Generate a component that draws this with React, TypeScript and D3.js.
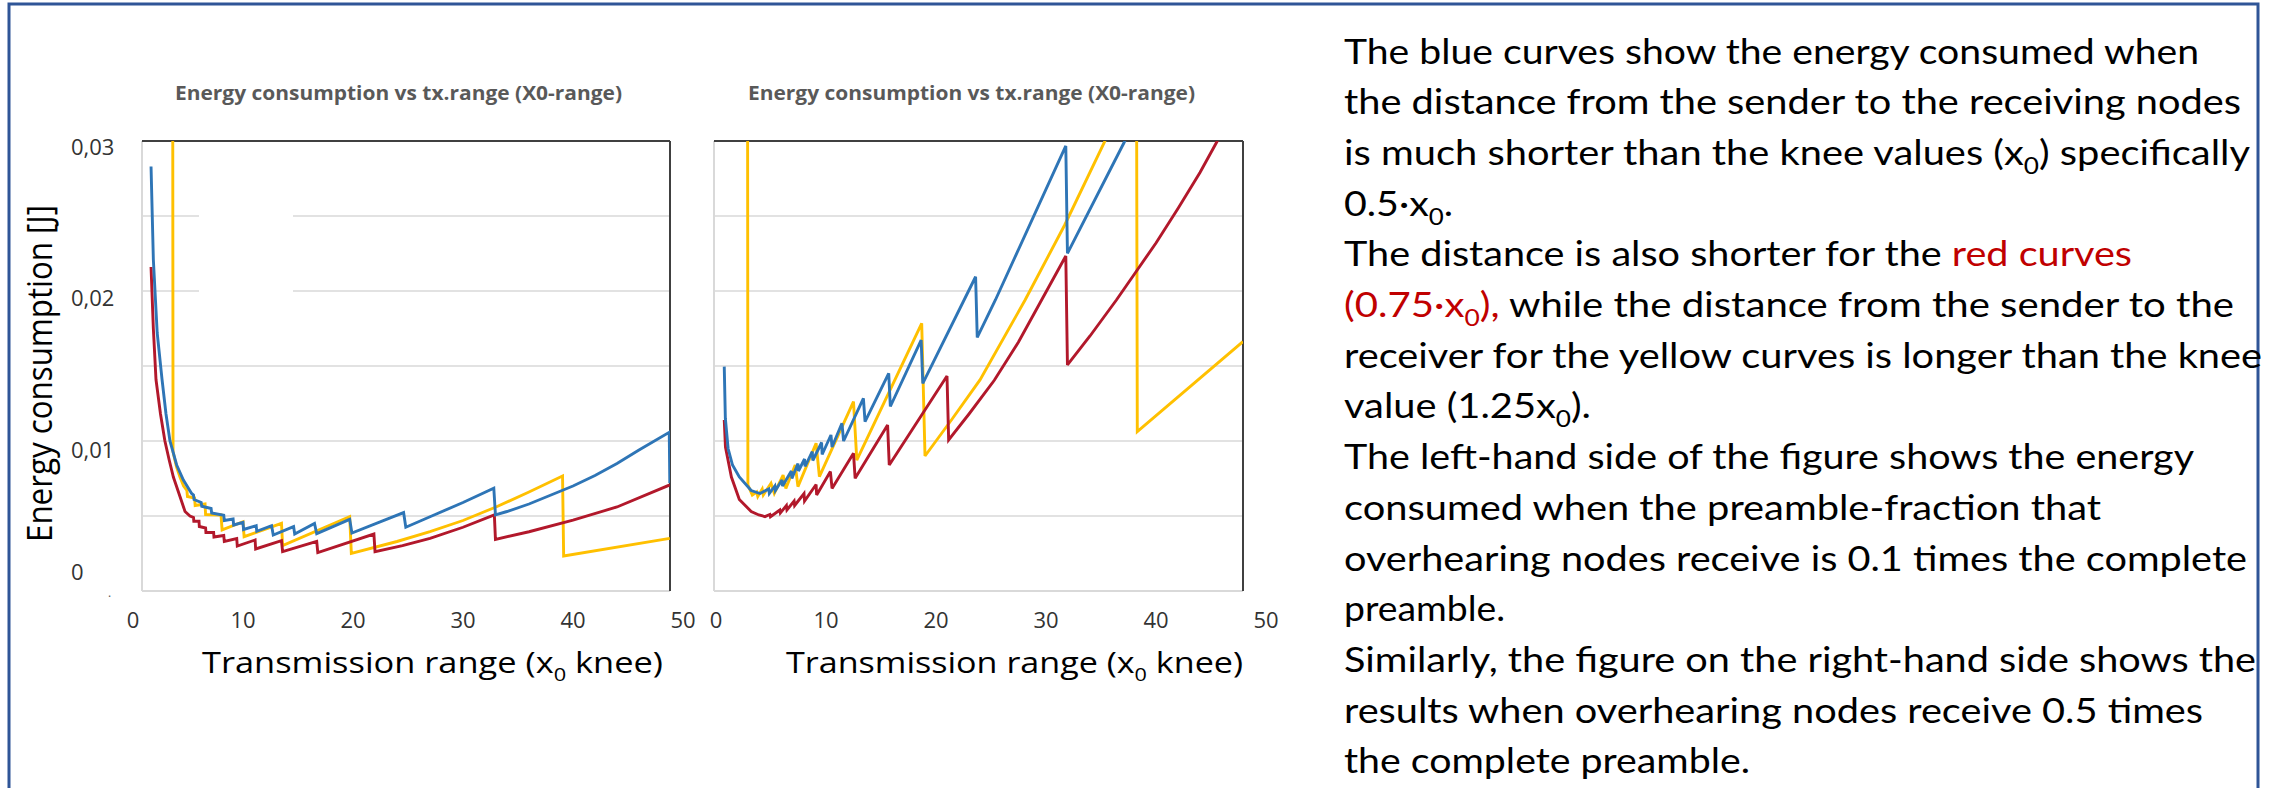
import React from 'react';
import * as d3 from 'd3';

type Pt = [number, number];

// ---------- DATA ----------
const X_TICKS = [0, 10, 20, 30, 40, 50];
const Y_TICK_LABELS = ['0,03', '0,02', '0,01', '0'];
// value at which each y tick label is centred (labels are offset from the grid in the original)
const Y_TICK_LABEL_AT = [0.02967, 0.01957, 0.00947, 0.00133];
const GRID_VALUES = [0.005, 0.01, 0.015, 0.02, 0.025];

const CHART_TITLE = 'Energy consumption vs tx.range (X0-range)';
const Y_TITLE = 'Energy consumption [J]';

// Left chart (preamble fraction 0.1)
const LEFT_BLUE: Pt[] = [
  [1.64, 0.0283], [1.85, 0.0221], [2.2, 0.0172], [2.64, 0.0141], [3.0, 0.0118], [3.36, 0.0100],
  [3.97, 0.0084], [4.58, 0.0074], [5.33, 0.0065],
  [5.5, 0.0064], [5.55, 0.0061], [6.2, 0.0059], [6.25, 0.00565], [7.1, 0.0055], [7.15, 0.0052],
  [8.25, 0.00505], [8.3, 0.0047], [9.1, 0.0048], [9.15, 0.0044], [10.0, 0.00458], [10.05, 0.0041],
  [11.2, 0.00435], [11.25, 0.00398], [12.6, 0.00435], [12.75, 0.00373], [14.6, 0.00429], [14.7, 0.0038],
  [16.5, 0.00451], [16.7, 0.00382], [19.7, 0.00478], [19.9, 0.00386], [24.6, 0.00523], [24.8, 0.00425],
  [27, 0.00495], [30, 0.0059], [32.8, 0.00685], [32.95, 0.00507], [34, 0.0053], [36, 0.0058],
  [38, 0.0064], [40, 0.0070], [42, 0.0077], [44, 0.0085], [46, 0.0094], [48.75, 0.01058], [48.8, 0.0072],
];
const LEFT_RED: Pt[] = [
  [1.64, 0.0216], [1.85, 0.0175], [2.09, 0.0141], [2.5, 0.0118], [2.9, 0.0100], [3.3, 0.0087],
  [3.67, 0.0076], [4.27, 0.0063], [4.73, 0.0053], [5.18, 0.0050],
  [5.5, 0.0049], [5.53, 0.00465], [6.0, 0.00465], [6.03, 0.0043], [6.6, 0.0042], [6.63, 0.0039],
  [7.33, 0.0039], [7.36, 0.0036], [8.25, 0.0037], [8.3, 0.0033], [9.43, 0.0035], [9.48, 0.0030],
  [11.1, 0.0034], [11.15, 0.0028], [13.5, 0.00336], [13.6, 0.00262], [16.7, 0.00331], [16.8, 0.00256],
  [21.9, 0.0038], [22.0, 0.00262], [24.5, 0.00303], [27, 0.00351], [30, 0.00425], [32.85, 0.00507],
  [32.95, 0.00344], [36, 0.00395], [40, 0.00473], [44, 0.0056], [48.8, 0.00707],
];
const LEFT_YELLOW: Pt[] = [
  [3.58, 0.06], [3.64, 0.00927], [3.95, 0.0083], [4.27, 0.0076], [4.6, 0.0070],
  [4.9, 0.0067], [4.95, 0.0063], [5.6, 0.0062], [5.65, 0.0057], [6.55, 0.0058], [6.6, 0.0051],
  [8.0, 0.00507], [8.1, 0.00407], [10.0, 0.00462], [10.1, 0.00362], [13.5, 0.00451], [13.6, 0.00302],
  [19.7, 0.00496], [19.85, 0.00251], [24, 0.0033], [27, 0.00396], [30, 0.0047], [33, 0.0056],
  [36, 0.0066], [39.05, 0.00767], [39.15, 0.00233], [48.8, 0.00351],
];

// Right chart (preamble fraction 0.5)
const RIGHT_BLUE: Pt[] = [
  [0.75, 0.01496], [0.85, 0.0115], [1.1, 0.0095], [1.5, 0.0084], [2.12, 0.0076], [3.2, 0.0067],
  [4.0, 0.0065], [4.8, 0.0068], [4.85, 0.0065], [5.35, 0.0070], [5.4, 0.0067], [6.0, 0.0074],
  [6.05, 0.0070], [6.85, 0.0080], [6.9, 0.0075], [7.45, 0.0085], [7.5, 0.0080], [8.05, 0.0088],
  [8.1, 0.0083], [8.75, 0.0093], [8.8, 0.0087], [9.6, 0.0099], [9.65, 0.0091], [10.45, 0.0104],
  [10.55, 0.0096], [11.45, 0.01118], [11.6, 0.0100], [13.4, 0.01284], [13.55, 0.01129],
  [15.7, 0.01451], [15.85, 0.0123], [18.65, 0.01673], [18.8, 0.01384], [23.6, 0.02095],
  [23.75, 0.01691], [25.4, 0.0194], [31.8, 0.02967], [31.95, 0.02251], [37.1, 0.0299], [37.6, 0.0307],
];
const RIGHT_RED: Pt[] = [
  [0.75, 0.0114], [0.86, 0.0096], [1.4, 0.0076], [2.12, 0.0061], [3.2, 0.0053], [3.9, 0.00507],
  [4.45, 0.00496], [4.9, 0.0051], [4.95, 0.00495], [5.8, 0.0054], [5.85, 0.0052], [6.4, 0.0057],
  [6.45, 0.0054], [7.1, 0.0060], [7.15, 0.0057], [8.0, 0.0065], [8.05, 0.0060], [9.1, 0.0071],
  [9.15, 0.0064], [10.4, 0.00796], [10.55, 0.00684], [12.5, 0.00918], [12.65, 0.00751],
  [15.6, 0.01107], [15.75, 0.0084], [21.0, 0.01433], [21.15, 0.01007], [23, 0.0118],
  [25.3, 0.01405], [27.5, 0.0166], [29.45, 0.0192], [31.8, 0.02233], [31.95, 0.01507],
  [34, 0.0170], [36.4, 0.0194], [38.2, 0.0213], [40, 0.0232], [42, 0.0255], [44, 0.0279],
  [45.5, 0.0299], [46.0, 0.0306],
];
const RIGHT_YELLOW: Pt[] = [
  [2.84, 0.06], [2.9, 0.00707], [3.3, 0.0064], [3.7, 0.0066], [3.8, 0.0063], [4.2, 0.0068],
  [4.3, 0.0064], [5.0, 0.00718], [5.3, 0.00651], [6.1, 0.00773], [6.35, 0.00684], [7.2, 0.0084],
  [7.45, 0.00696], [9.1, 0.00985], [9.4, 0.00762], [12.5, 0.01262], [12.8, 0.00873],
  [18.7, 0.01784], [19.0, 0.0090], [21.5, 0.0115], [24.0, 0.01407], [28.1, 0.0194], [31.7, 0.0244],
  [35.3, 0.0299], [35.6, 0.0304], [38.2, 0.045], [38.3, 0.01062], [47.9, 0.01662],
];

type Seg = { t: string; sub?: boolean; red?: boolean };
const TEXT_LINES: Seg[][] = [
  [{ t: 'The blue curves show the energy consumed when' }],
  [{ t: 'the distance from the sender to the receiving nodes' }],
  [{ t: 'is much shorter than the knee values (x' }, { t: '0', sub: true }, { t: ') specifically' }],
  [{ t: '0.5\u00B7x' }, { t: '0', sub: true }, { t: '.' }],
  [{ t: 'The distance is also shorter for the ' }, { t: 'red curves', red: true }],
  [{ t: '(0.75\u00B7x', red: true }, { t: '0', sub: true, red: true }, { t: '),', red: true }, { t: ' while the distance from the sender to the' }],
  [{ t: 'receiver for the yellow curves is longer than the knee' }],
  [{ t: 'value (1.25x' }, { t: '0', sub: true }, { t: ').' }],
  [{ t: 'The left-hand side of the figure shows the energy' }],
  [{ t: 'consumed when the preamble-fraction that' }],
  [{ t: 'overhearing nodes receive is 0.1 times the complete' }],
  [{ t: 'preamble.' }],
  [{ t: 'Similarly, the figure on the right-hand side shows the' }],
  [{ t: 'results when overhearing nodes receive 0.5 times' }],
  [{ t: 'the complete preamble.' }],
];
const TEXT_LINE_WIDTHS = [855, 897, 906, 109, 788, 890, 918, 247, 850, 757, 903, 161, 912, 859, 406];

// ---------- STYLE / LAYOUT ----------
const W = 2275;
const H = 788;
const FONT = "'Open Sans', 'Noto Sans', sans-serif";
const BLUE = '#2E75B6';
const RED = '#B2182B';
const YELLOW = '#FFC000';

const yScale = d3.scaleLinear().domain([0, 0.03]).range([591, 141]);

const CHARTS = [
  {
    id: 'L', xRange: [133, 683], plot: { l: 142, r: 670 }, titleCx: 398.5,
    xTitleX: 202, xTitleLen: 461, yLabels: true,
    series: [LEFT_YELLOW, LEFT_RED, LEFT_BLUE],
  },
  {
    id: 'R', xRange: [716, 1266], plot: { l: 714, r: 1243 }, titleCx: 971.5,
    xTitleX: 786, xTitleLen: 457, yLabels: false,
    series: [RIGHT_YELLOW, RIGHT_RED, RIGHT_BLUE],
  },
];
const COLORS = [YELLOW, RED, BLUE];

function Chart({ c }: { c: typeof CHARTS[number] }) {
  const x = d3.scaleLinear().domain([0, 50]).range(c.xRange as [number, number]);
  const top = yScale(0.03);
  const bottom = yScale(0);
  const line = d3.line<Pt>().x((d) => x(d[0])).y((d) => yScale(d[1]));
  const clipId = `clip-${c.id}`;
  return (
    <g>
      <defs>
        <clipPath id={clipId}>
          <rect x={c.plot.l} y={top} width={c.plot.r - c.plot.l} height={bottom - top} />
        </clipPath>
      </defs>
      <text x={c.titleCx} y={100} textAnchor="middle" fontFamily={FONT} fontWeight={700}
        fontSize={19} fill="#595959" textLength={447} lengthAdjust="spacingAndGlyphs">
        {CHART_TITLE}
      </text>
      {GRID_VALUES.map((v) => (
        <line key={v} x1={c.plot.l} x2={c.plot.r} y1={yScale(v)} y2={yScale(v)}
          stroke="#D9D9D9" strokeWidth={1.6} />
      ))}
      {c.id === 'L' && (
        <rect x={199} y={200} width={94} height={100} fill="#fff" />
      )}
      <line x1={c.plot.l} x2={c.plot.l} y1={top} y2={bottom} stroke="#D9D9D9" strokeWidth={2} />
      <line x1={c.plot.l} x2={c.plot.r} y1={bottom} y2={bottom} stroke="#D9D9D9" strokeWidth={2} />
      <line x1={c.plot.l} x2={c.plot.r} y1={top} y2={top} stroke="#404040" strokeWidth={2} />
      <line x1={c.plot.r} x2={c.plot.r} y1={top} y2={bottom} stroke="#404040" strokeWidth={2} />
      <g clipPath={`url(#${clipId})`}>
        {c.series.map((s, i) => (
          <path key={i} d={line(s) || ''} fill="none" stroke={COLORS[i]} strokeWidth={2.9}
            strokeLinejoin="miter" strokeMiterlimit={3} />
        ))}
      </g>
      {X_TICKS.map((t) => (
        <text key={t} x={x(t)} y={619} textAnchor="middle" dominantBaseline="central"
          fontFamily={FONT} fontSize={22} fill="#333">
          {t}
        </text>
      ))}
      {c.yLabels && Y_TICK_LABELS.map((l, i) => (
        <text key={l} x={71} y={yScale(Y_TICK_LABEL_AT[i])} dominantBaseline="central"
          fontFamily={FONT} fontSize={22} fill="#333">
          {l}
        </text>
      ))}
      {c.yLabels && (
        <text x={108} y={597} fontFamily={FONT} fontSize={12} fill="#555">.</text>
      )}
      <text x={c.xTitleX} y={673} fontFamily={FONT} fontSize={30} fill="#000"
        textLength={c.xTitleLen} lengthAdjust="spacingAndGlyphs">
        Transmission range (x<tspan fontSize={19} dy={8}>0</tspan>
        <tspan dy={-8}> knee)</tspan>
      </text>
    </g>
  );
}

export default function App() {
  return (
    <svg width={W} height={H} viewBox={`0 0 ${W} ${H}`}
      style={{ position: 'absolute', left: 0, top: 0, display: 'block', background: '#fff' }}>
      <rect x={0} y={0} width={W} height={H} fill="#fff" />
      <rect x={9} y={4} width={2249} height={900} fill="none" stroke="#2F5597" strokeWidth={3} />
      {CHARTS.map((c) => <Chart key={c.id} c={c} />)}
      <text transform="translate(52,373.5) rotate(-90)" textAnchor="middle" fontFamily={FONT}
        fontSize={35} fill="#000" textLength={337} lengthAdjust="spacingAndGlyphs">
        {Y_TITLE}
      </text>
      {TEXT_LINES.map((segs, i) => (
        <text key={i} x={1344} y={63.5 + 50.7 * i} fontFamily="Lato, 'Open Sans', sans-serif"
          fontSize={35} fill="#000" textLength={TEXT_LINE_WIDTHS[i]} lengthAdjust="spacingAndGlyphs">
          {segs.map((s, j) => {
            const prevSub = j > 0 && segs[j - 1].sub;
            const dy = s.sub ? 9 : prevSub ? -9 : 0;
            return (
              <tspan key={j} dy={dy || undefined} fontSize={s.sub ? 23 : undefined}
                fill={s.red ? '#C00000' : undefined}>
                {s.t}
              </tspan>
            );
          })}
        </text>
      ))}
    </svg>
  );
}
